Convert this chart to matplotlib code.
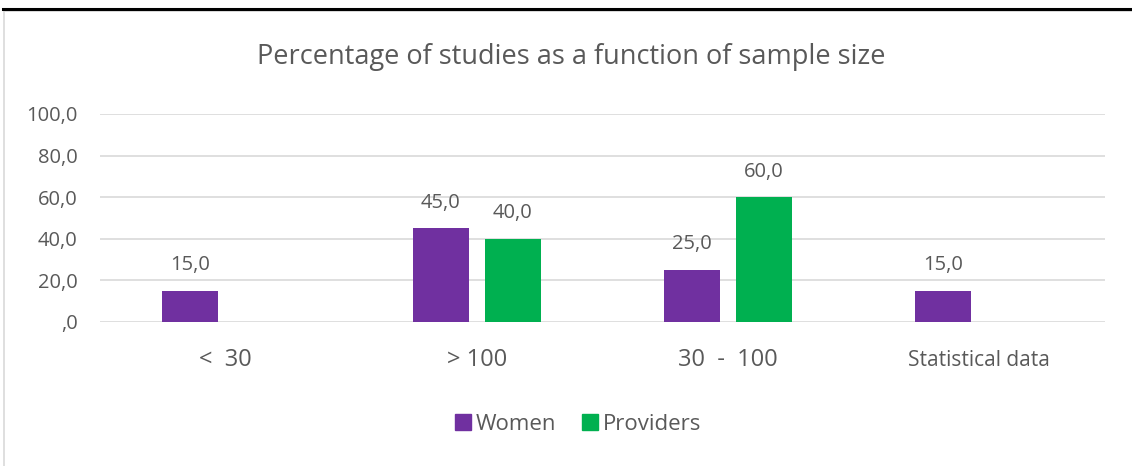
import matplotlib
matplotlib.use("Agg")
import matplotlib.pyplot as plt
from matplotlib.patches import Rectangle
from matplotlib.lines import Line2D

categories = ["<  30", "> 100", "30  -  100", "Statistical data"]
women = [15.0, 45.0, 25.0, 15.0]
providers = [None, 40.0, 60.0, None]
yticks = [0, 20, 40, 60, 80, 100]
ytick_labels = [",0", "20,0", "40,0", "60,0", "80,0", "100,0"]

W, H = 1132, 466
fig = plt.figure(figsize=(W / 100, H / 100), dpi=100)
plt.rcParams['font.family'] = ['Open Sans', 'DejaVu Sans']

PURPLE = "#7030a0"
GREEN = "#00b050"
TXT = "#595959"

# frame
fig.add_artist(Line2D([3 / W, 1], [1 - 8.5 / H, 1 - 8.5 / H], color="black", lw=2.2))
fig.add_artist(Rectangle((3.5 / W, -0.01), 1.2, 1 - 10.5 / H + 0.01, fill=False,
                         edgecolor="#d9d9d9", lw=1.2))

ax = fig.add_axes([100 / W, 1 - 322 / H, 1005 / W, 208 / H])
ax.set_xlim(-0.5, 3.5)
ax.set_ylim(0, 100)
bw = 0.223
off = 0.143
for i, v in enumerate(women):
    if v is not None:
        ax.bar(i - off, v, width=bw, color=PURPLE, zorder=3)
        ax.text(i - off, v + 12.3, f"{v:.1f}".replace(".", ","), ha="center", va="center",
                fontsize=14.5, color=TXT)
for i, v in enumerate(providers):
    if v is not None:
        ax.bar(i + off, v, width=bw, color=GREEN, zorder=3)
        ax.text(i + off, v + 12.3, f"{v:.1f}".replace(".", ","), ha="center", va="center",
                fontsize=14.5, color=TXT)

ax.set_yticks(yticks)
ax.set_yticklabels(ytick_labels, fontsize=14.5, color=TXT)
ax.yaxis.grid(True, color="#d9d9d9", lw=1.2, zorder=0)
ax.tick_params(axis="y", length=0, pad=16)
ax.tick_params(axis="x", length=0)
ax.set_xticks([])
for s in ax.spines.values():
    s.set_visible(False)

xl_sizes = [17, 17, 17, 15]
for i, (c, fs) in enumerate(zip(categories, xl_sizes)):
    ax.text(i, -18.5, c, ha="center", va="center", fontsize=fs, color=TXT,
            transform=ax.transData, clip_on=False)

fig.text(571 / W, 1 - 57 / H, "Percentage of studies as a function of sample size",
         ha="center", va="center", fontsize=19.5, color=TXT)

handles = [Rectangle((0, 0), 1, 1, color=PURPLE), Rectangle((0, 0), 1, 1, color=GREEN)]
fig.legend(handles, ["Women", "Providers"], loc="center", bbox_to_anchor=(578 / W, 1 - 424 / H),
           ncol=2, frameon=False, fontsize=16, labelcolor=TXT, handlelength=0.7,
           handleheight=0.7, handletextpad=0.2, columnspacing=1.2)

fig.savefig("out.png", dpi=100, facecolor="white")
